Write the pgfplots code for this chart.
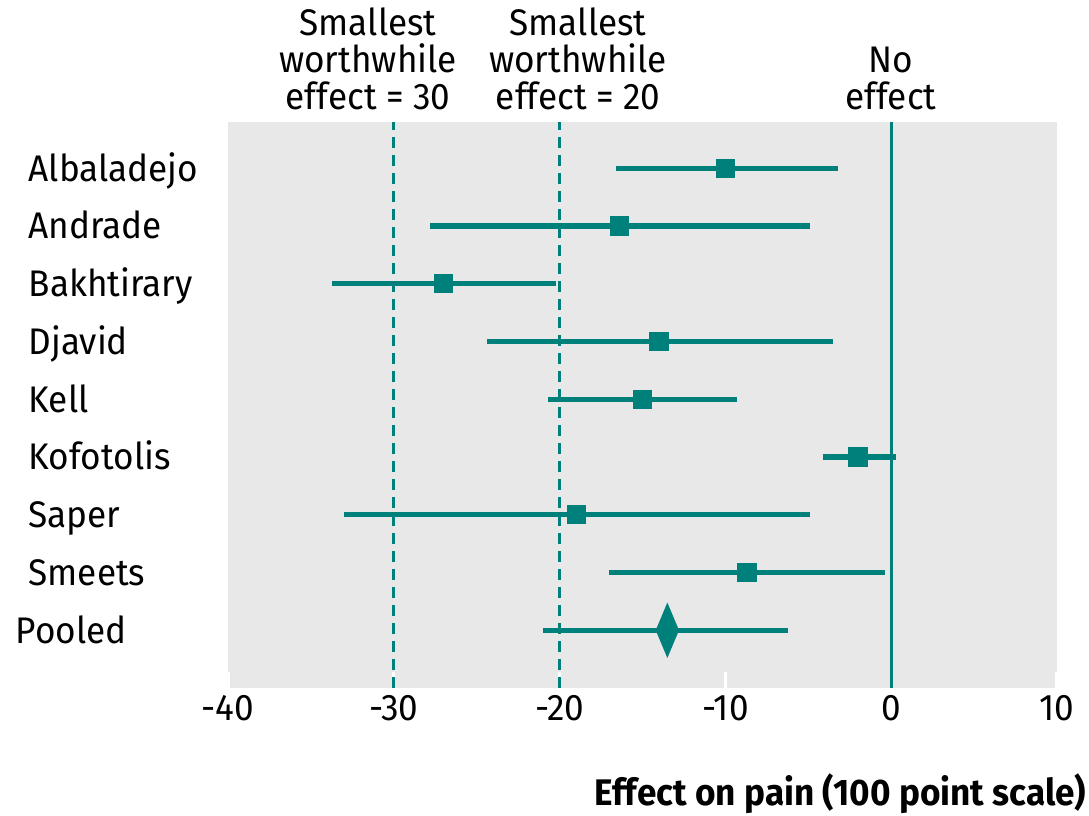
\documentclass[border=0pt]{standalone}
\usepackage{fontspec}
\setmainfont[FakeStretch=0.95]{Fira Sans}
\usepackage{pgfplots}
\usepackage{pgfplotstable}
\pgfplotsset{compat=1.18}

\definecolor{bmjteal}{RGB}{0,128,122}
\definecolor{panelgray}{RGB}{232,232,232}
\newcommand\lab{\fontsize{11.1pt}{11.1pt}\selectfont}

% y, effect, lower and upper limit of the interval
\pgfplotstableread{
y  x      lo     hi
9  -10.0  -16.6  -3.2
8  -16.4  -27.8  -4.9
7  -27.0  -33.7  -20.2
6  -14.0  -24.4  -3.5
5  -15.0  -20.7  -9.3
4  -2.0   -4.1   0.3
3  -19.0  -33.0  -4.9
2  -8.7   -17.0  -0.4
}\studies
\pgfplotstableread{
y  x      lo     hi
1  -13.5  -21.0  -6.2
}\pooled

\begin{document}
\begin{tikzpicture}
\useasboundingbox (0,0) rectangle (326.7pt,244.5pt);
\begin{axis}[
    at={(68.4pt,38.1pt)}, anchor=south west,
    width=248.7pt, height=169.8pt, scale only axis,
    xmin=-40, xmax=10, ymin=0, ymax=9.8,
    axis line style={draw=none},
    axis background/.style={fill=panelgray},
    xtick={-40,-30,-20,-10,0,10},
    xticklabels={-40,-30,-20,-10,0,10},
    xtick pos=bottom, tick align=inside,
    major tick length=4.8pt,
    x tick style={white, line width=1pt},
    ytick={1,...,9},
    yticklabels={\hspace*{-3.9pt}Pooled,Smeets,Saper,Kofotolis,Kell,Djavid,Bakhtirary,Andrade,Albaladejo},
    y tick style={draw=none},
    xticklabel style={font=\lab, anchor=base, inner sep=0pt, yshift=-9.8pt},
    yticklabel style={font=\lab, anchor=base west, inner sep=0pt, xshift=-60pt, yshift=-3.9pt},
    xlabel={\bfseries Effect on pain (100 point scale)},
    xlabel style={font=\lab, at={(rel axis cs:1,0)}, anchor=base east, inner sep=0pt,
                  xshift=9pt, yshift=-35.1pt},
    clip=false,
  ]
  \addplot[bmjteal, line width=1pt, dash pattern=on 3.3pt off 2.1pt] coordinates {(-30,0) (-30,9.8)};
  \addplot[bmjteal, line width=1pt, dash pattern=on 3.3pt off 2.1pt] coordinates {(-20,0) (-20,9.8)};
  \addplot[bmjteal, line width=1pt] coordinates {(0,0) (0,9.8)};

  \addplot[only marks, mark=square*, mark size=2.7pt, mark options={bmjteal, draw=none, fill=bmjteal},
    error bars/.cd, x dir=both, x explicit, error mark=none,
    error bar style={line width=1.6pt, bmjteal}]
    table[x=x, y=y, x error plus expr=\thisrow{hi}-\thisrow{x},
          x error minus expr=\thisrow{x}-\thisrow{lo}] {\studies};

  \addplot[only marks, mark=diamond*, mark size=7.8pt,
    mark options={bmjteal, draw=none, fill=bmjteal, xscale=0.56},
    error bars/.cd, x dir=both, x explicit, error mark=none,
    error bar style={line width=1.6pt, bmjteal}]
    table[x=x, y=y, x error plus expr=\thisrow{hi}-\thisrow{x},
          x error minus expr=\thisrow{x}-\thisrow{lo}] {\pooled};
\end{axis}
\node[font=\lab, align=center, anchor=south, inner sep=0pt] at (110.4pt,211.2pt)
  {Smallest\\worthwhile\\effect = 30};
\node[font=\lab, align=center, anchor=south, inner sep=0pt] at (173.4pt,211.2pt)
  {Smallest\\worthwhile\\effect = 20};
\node[font=\lab, align=center, anchor=south, inner sep=0pt] at (267.3pt,211.2pt)
  {No\\effect};
\end{tikzpicture}
\end{document}
